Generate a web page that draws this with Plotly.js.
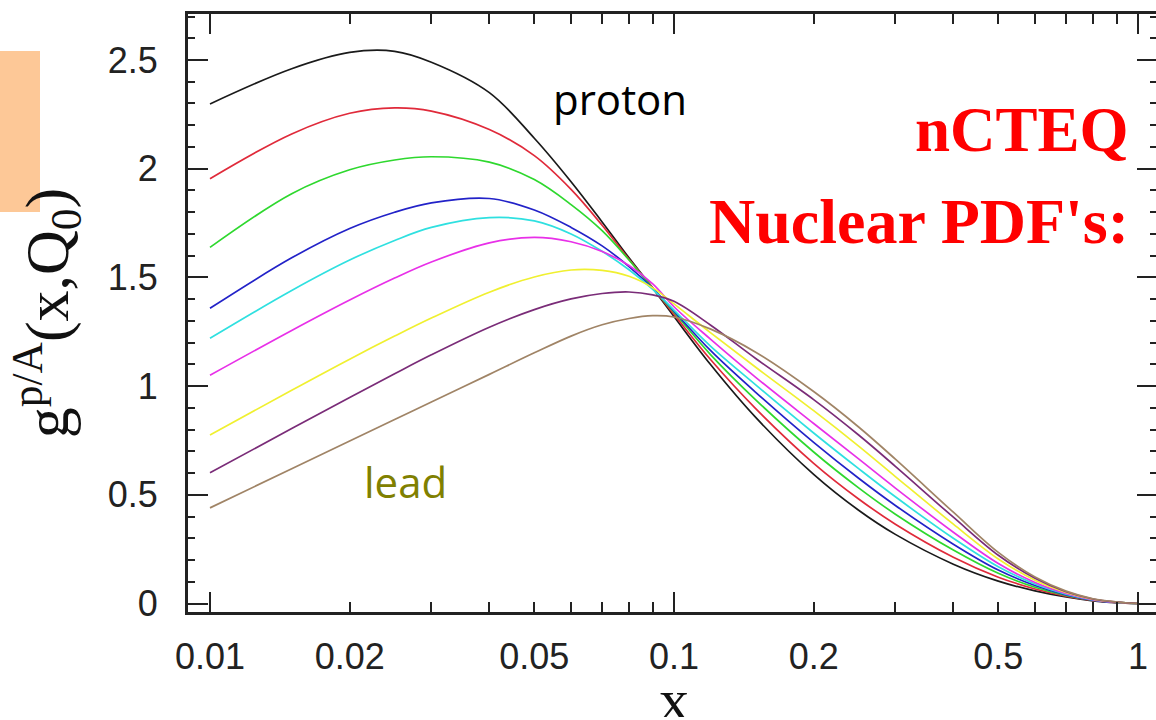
<!DOCTYPE html>
<html>
<head>
<meta charset="utf-8">
<script src="https://cdn.plot.ly/plotly-3.0.1.min.js"></script>
<style>
html,body{margin:0;padding:0;overflow:hidden;background:#fff;}
#chart{width:1157px;height:720px;}
</style>
</head>
<body>
<div id="chart"></div>
<script>
// ---- data ----
const xVals = [0.01, 0.015, 0.02, 0.025, 0.03, 0.04, 0.05, 0.06, 0.07, 0.08, 0.09, 0.1, 0.12, 0.15, 0.2, 0.25, 0.3, 0.4, 0.5, 0.6, 0.7, 0.8, 0.9, 1.0];
const gBlack   = [2.298, 2.46, 2.535, 2.54, 2.49, 2.35, 2.14, 1.94, 1.755, 1.59, 1.45, 1.32, 1.098, 0.856, 0.594, 0.429, 0.318, 0.181, 0.103, 0.058, 0.030, 0.0126, 0.004, 0];
const gRed     = [1.954, 2.16, 2.255, 2.28, 2.265, 2.18, 2.06, 1.905, 1.74, 1.583, 1.452, 1.33, 1.121, 0.8965, 0.645, 0.481, 0.365, 0.213, 0.121, 0.067, 0.034, 0.014, 0.0044, 0];
const gGreen   = [1.638, 1.885, 1.995, 2.04, 2.055, 2.03, 1.95, 1.835, 1.715, 1.58, 1.45, 1.34, 1.144, 0.937, 0.697, 0.532, 0.411, 0.246, 0.139, 0.075, 0.037, 0.015, 0.0048, 0];
const gBlue    = [1.358, 1.59, 1.725, 1.80, 1.843, 1.863, 1.81, 1.73, 1.645, 1.55, 1.45, 1.345, 1.163, 0.9715, 0.741, 0.576, 0.451, 0.273, 0.154, 0.083, 0.040, 0.016, 0.0052, 0];
const gCyan    = [1.22, 1.44, 1.58, 1.67, 1.73, 1.775, 1.76, 1.70, 1.62, 1.535, 1.445, 1.35, 1.183, 1.006, 0.7845, 0.6205, 0.491, 0.30, 0.169, 0.09, 0.0435, 0.017, 0.0055, 0];
const gMagenta = [1.05, 1.256, 1.396, 1.497, 1.571, 1.659, 1.684, 1.664, 1.619, 1.555, 1.47, 1.365, 1.215, 1.0405, 0.828, 0.665, 0.531, 0.328, 0.184, 0.097, 0.0465, 0.018, 0.0058, 0];
const gYellow  = [0.775, 0.981, 1.124, 1.23, 1.313, 1.432, 1.502, 1.534, 1.532, 1.505, 1.452, 1.378, 1.245, 1.087, 0.887, 0.724, 0.584, 0.365, 0.205, 0.107, 0.051, 0.0198, 0.0063, 0];
const gPurple  = [0.601, 0.805, 0.948, 1.057, 1.144, 1.271, 1.352, 1.401, 1.426, 1.433, 1.42, 1.39, 1.28, 1.127, 0.938, 0.775, 0.631, 0.397, 0.222, 0.116, 0.054, 0.021, 0.0067, 0];
const gBrown   = [0.44, 0.62, 0.7475, 0.846, 0.927, 1.054, 1.153, 1.23, 1.282, 1.311, 1.324, 1.318, 1.262, 1.156, 0.975, 0.812, 0.664, 0.42, 0.235, 0.122, 0.057, 0.022, 0.007, 0];

const seriesNames  = ["proton", "A2", "A3", "A4", "A5", "A6", "A7", "A8", "lead"];
const seriesValues = [gBlack, gRed, gGreen, gBlue, gCyan, gMagenta, gYellow, gPurple, gBrown];
const seriesColors = ["#1a1a1a", "#e02a3a", "#2ed82e", "#2222c8", "#2fe0e0", "#e830e8", "#f0f030", "#7a2c78", "#a08466"];

const xTickVals   = [0.01, 0.02, 0.05, 0.1, 0.2, 0.5, 1];
const xTickText   = ["0.01", "0.02", "0.05", "0.1", "0.2", "0.5", "1"];
const xMinorVals  = [0.03, 0.04, 0.06, 0.07, 0.08, 0.09, 0.3, 0.4, 0.6, 0.7, 0.8, 0.9];
const xDecadeVals = [0.01, 0.1, 1];
const yTickVals   = [0, 0.5, 1, 1.5, 2, 2.5];
const yTickText   = ["0", "0.5", "1", "1.5", "2", "2.5"];

// ---- layout geometry ----
const W = 1157, H = 720;
const M = {l: 188, r: 0, t: 14, b: 108};
const PW = W - M.l - M.r, PH = H - M.t - M.b;
const px = v => (v - M.l) / PW;          // page pixel -> paper x
const py = v => (H - M.b - v) / PH;      // page pixel -> paper y
const xRange = [-2.0474, 0.041];
const yRange = [-0.039, 2.7116];

const traces = seriesValues.map((vals, i) => ({
  type: "scatter", mode: "lines", name: seriesNames[i],
  x: xVals, y: vals,
  line: {color: seriesColors[i], width: 1.7, shape: "spline", smoothing: 1},
  hoverinfo: "skip", showlegend: false
}));
traces.push({type: "scatter", mode: "lines", x: [0.5], y: [null], xaxis: "x2", yaxis: "y",
             showlegend: false, hoverinfo: "skip"});

const axisCol = "#222";
const serif = "Liberation Serif, Times New Roman, serif";
const layout = {
  width: W, height: H, margin: M,
  paper_bgcolor: "#fff", plot_bgcolor: "#fff",
  showlegend: false,
  xaxis: {
    type: "log", range: xRange,
    tickmode: "array", tickvals: xTickVals, ticktext: xTickText,
    ticks: "inside", ticklen: 10, tickwidth: 2, tickcolor: axisCol,
    minor: {tickmode: "array", tickvals: xMinorVals, ticks: "inside", ticklen: 10, tickwidth: 2, tickcolor: axisCol, showgrid: false},
    showline: true, linewidth: 3, linecolor: axisCol, mirror: "ticks",
    showgrid: false, zeroline: false,
    tickfont: {family: "Liberation Sans, Arial, sans-serif", size: 36, color: axisCol},
    ticklabelstandoff: 11
  },
  xaxis2: {
    type: "log", range: xRange, overlaying: "x", anchor: "y", side: "bottom",
    tickmode: "array", tickvals: xDecadeVals, showticklabels: false,
    ticks: "inside", ticklen: 20, tickwidth: 2, tickcolor: axisCol,
    showline: false, mirror: "ticks", showgrid: false, zeroline: false
  },
  yaxis: {
    range: yRange,
    tickmode: "array", tickvals: yTickVals, ticktext: yTickText,
    ticks: "inside", ticklen: 20, tickwidth: 2, tickcolor: axisCol,
    minor: {dtick: 0.1, tick0: 0, ticks: "inside", ticklen: 7, tickwidth: 2, tickcolor: axisCol, showgrid: false},
    showline: true, linewidth: 3, linecolor: axisCol, mirror: "ticks",
    showgrid: false, zeroline: false,
    tickfont: {family: "Liberation Sans, Arial, sans-serif", size: 36, color: axisCol},
    ticklabelstandoff: 20,
    title: {text: "g<sup>p/A</sup>(x,Q<sub>0</sub>)", font: {family: serif, size: 62, color: "#111"}, standoff: 20}
  },
  shapes: [
    {type: "rect", xref: "paper", yref: "paper", x0: px(0), x1: px(40), y0: py(212), y1: py(51),
     fillcolor: "#fdc897", line: {width: 0}, layer: "below"}
  ],
  annotations: [
    {xref: "paper", yref: "paper", x: px(674), y: py(700), text: "x", showarrow: false, height: 34,
     xanchor: "center", yanchor: "middle", font: {family: serif, size: 60, color: "#111"}},
    {xref: "paper", yref: "paper", x: px(620), y: py(98), text: "proton", showarrow: false,
     xanchor: "center", yanchor: "middle", font: {family: "Open Sans, Liberation Sans, sans-serif", size: 42, color: "#000"}},
    {xref: "paper", yref: "paper", x: px(405), y: py(481), text: "lead", showarrow: false,
     xanchor: "center", yanchor: "middle", font: {family: "Open Sans, Liberation Sans, sans-serif", size: 42, color: "#808000"}},
    {xref: "paper", yref: "paper", x: px(1131), y: py(130), text: "<b>nCTEQ</b>", showarrow: false,
     xanchor: "right", yanchor: "middle", font: {family: serif, size: 63, color: "#ff0000"}},
    {xref: "paper", yref: "paper", x: px(1131), y: py(221), text: "<b>Nuclear PDF's:</b>", showarrow: false,
     xanchor: "right", yanchor: "middle", font: {family: serif, size: 64, color: "#ff0000"}}
  ]
};

Plotly.newPlot("chart", traces, layout, {staticPlot: true, displayModeBar: false});
</script>
</body>
</html>
